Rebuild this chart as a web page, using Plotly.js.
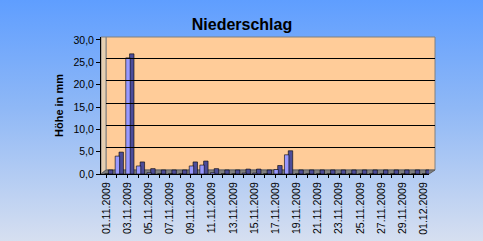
<!DOCTYPE html>
<html>
<head>
<meta charset="utf-8">
<script src="https://cdn.plot.ly/plotly-3.0.1.min.js"></script>
<style>
  html, body { margin: 0; padding: 0; }
  body { width: 483px; height: 241px; overflow: hidden;
         background: linear-gradient(to bottom, #5f9eff 0%, #8fb8f6 45%, #d6dff0 100%); }
  #chart { width: 483px; height: 241px; }
</style>
</head>
<body>
<div id="chart"></div>
<script>
// ---- data ----
const dates = [
  '01.11.2009','02.11.2009','03.11.2009','04.11.2009','05.11.2009','06.11.2009',
  '07.11.2009','08.11.2009','09.11.2009','10.11.2009','11.11.2009','12.11.2009',
  '13.11.2009','14.11.2009','15.11.2009','16.11.2009','17.11.2009','18.11.2009',
  '19.11.2009','20.11.2009','21.11.2009','22.11.2009','23.11.2009','24.11.2009',
  '25.11.2009','26.11.2009','27.11.2009','28.11.2009','29.11.2009','30.11.2009',
  '01.12.2009'
];
const rainMM = [
  0, 4.0, 26.0, 1.8, 0.3, 0,
  0, 0, 1.8, 2.0, 0.3, 0,
  0, 0.2, 0.2, 0, 1.0, 4.3,
  0, 0, 0, 0, 0, 0,
  0, 0, 0, 0, 0, 0,
  0
];
const yTickVals = [0, 5, 10, 15, 20, 25, 30];
const xTickText = dates.map((d, i) => (i % 2 === 0 ? d : ''));

// ---- pseudo 3D depth (style) ----
const depthMM = 0.9;

const sideTrace = {
  type: 'bar', x: dates, y: rainMM.map(v => v + depthMM), base: 0,
  width: 0.42, offset: 0.2,
  marker: { color: '#4c4c99', line: { color: '#000000', width: 0.6 } },
  hoverinfo: 'skip', showlegend: false, xaxis: 'x', yaxis: 'y'
};
const frontTrace = {
  type: 'bar', x: dates, y: rainMM, base: 0,
  width: 0.42, offset: -0.16,
  marker: { color: '#9999ff', line: { color: '#000000', width: 0.6 } },
  name: 'Niederschlag', showlegend: false, xaxis: 'x', yaxis: 'y'
};
const wallTrace = { type: 'scatter', x: [], y: [], xaxis: 'x2', yaxis: 'y2', showlegend: false, hoverinfo: 'skip' };

const font = 'Liberation Sans, Arial, sans-serif';

const layout = {
  width: 483, height: 241,
  margin: { l: 101, r: 48, t: 37, b: 67, pad: 0 },
  paper_bgcolor: 'rgba(0,0,0,0)', plot_bgcolor: 'rgba(0,0,0,0)',
  separators: ',.',
  barmode: 'overlay',
  font: { family: font, color: '#000000', size: 10 },
  title: {
    text: 'Niederschlag', font: { family: font, size: 16, weight: 'bold', color: '#000' },
    xref: 'container', yref: 'container', x: 0.501, xanchor: 'center', y: 0.9, yanchor: 'middle'
  },
  xaxis: {
    type: 'category', domain: [0, 0.982], range: [-0.5, 30.5], anchor: 'y',
    categoryorder: 'array', categoryarray: dates,
    tickmode: 'array', tickvals: dates, ticktext: xTickText, tickangle: -90,
    tickfont: { family: 'Liberation Sans Narrow, Liberation Sans, Arial, sans-serif', size: 10.5 },
    ticks: 'outside', ticklen: 3, tickcolor: '#000', showline: true, linecolor: '#000', linewidth: 1,
    showgrid: false, zeroline: false, fixedrange: true
  },
  yaxis: {
    domain: [0, 1], range: [0, 30.67], anchor: 'x',
    tickmode: 'array', tickvals: yTickVals, tickformat: '.1f',
    tickfont: { family: font, size: 10.5 },
    ticks: 'outside', ticklen: 4, tickcolor: '#000', showline: true, linecolor: '#000', linewidth: 1,
    showgrid: false, zeroline: false,
    title: { text: 'Höhe in mm', font: { family: font, size: 11, weight: 'bold' }, standoff: 7 }
  },
  xaxis2: {
    domain: [0.015, 1], anchor: 'y2', range: [0, 1],
    showgrid: false, zeroline: false, showline: false, showticklabels: false, ticks: ''
  },
  yaxis2: {
    domain: [0.029, 1], anchor: 'x2', range: [0, 29.78],
    tickmode: 'array', tickvals: yTickVals,
    showgrid: true, gridcolor: '#000000', gridwidth: 1,
    zeroline: false, showline: false, showticklabels: false, ticks: ''
  },
  shapes: [
    { type: 'rect', xref: 'x2 domain', yref: 'y2 domain', x0: 0, x1: 1, y0: 0, y1: 1,
      fillcolor: '#ffcc99', line: { color: '#808080', width: 1 }, layer: 'below' },
    { type: 'path', xref: 'paper', yref: 'paper', path: 'M 0,0 L 0.015,0.029 L 0.015,1 L 0,1 Z',
      fillcolor: '#e6cfb0', line: { color: '#808080', width: 1 }, layer: 'below' },
    { type: 'path', xref: 'paper', yref: 'paper', path: 'M 0,0 L 0.982,0 L 1,0.029 L 0.015,0.029 Z',
      fillcolor: '#808080', line: { color: '#606060', width: 1 }, layer: 'below' }
  ]
};

Plotly.newPlot('chart', [wallTrace, sideTrace, frontTrace], layout, { displayModeBar: false, staticPlot: true });
</script>
</body>
</html>
